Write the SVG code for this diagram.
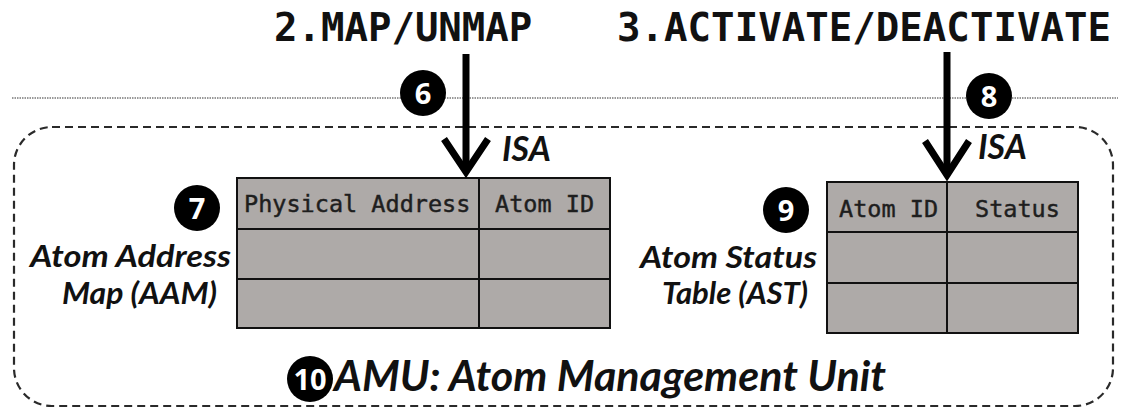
<svg xmlns="http://www.w3.org/2000/svg" width="1121" height="411" viewBox="0 0 1121 411">
  <defs>
    <style>
      .title { font-family: "DejaVu Sans Mono", "Liberation Mono", monospace; font-weight: bold; font-size: 39px; fill: #111; }
      .label { font-family: Lato, "Open Sans", sans-serif; font-style: italic; font-weight: bold; font-size: 31px; fill: #111; }
      .isa { font-family: Lato, "Open Sans", sans-serif; font-style: italic; font-weight: bold; font-size: 34px; fill: #111; }
      .unit { font-family: Lato, "Open Sans", sans-serif; font-style: italic; font-weight: bold; font-size: 42px; fill: #111; }
      .head { font-family: "DejaVu Sans Mono", "Liberation Mono", monospace; font-size: 23.5px; fill: #1e1e1e; stroke: #1e1e1e; stroke-width: 0.45; }
      .cell { fill: #aeaaa8; stroke: #111; stroke-width: 2; }
      .badge circle { fill: #000; }
      .badge text { font-family: "Open Sans", "DejaVu Sans", sans-serif; font-weight: bold; font-size: 29px; fill: #fff; text-anchor: middle; }
      .shaft { stroke: #000; stroke-width: 7; fill: none; }
      .head-v { stroke: #000; stroke-width: 7; fill: none; stroke-linejoin: miter; stroke-miterlimit: 10; }
    </style>
  </defs>

  <!-- ISA boundary line -->
  <line x1="12" y1="98" x2="1118" y2="98" stroke="#333" stroke-width="1" stroke-dasharray="1.5 1"/>

  <!-- AMU enclosure -->
  <g id="amu">
    <rect x="14" y="127" width="1099" height="279" rx="38" ry="38" fill="none" stroke="#2a2a2a" stroke-width="2.2" stroke-dasharray="8 5"/>
    <g class="badge" id="badge-10">
      <circle cx="310" cy="379" r="23"/>
      <text x="310" y="389.5">10</text>
    </g>
    <text class="unit" x="334" y="391" textLength="552" lengthAdjust="spacingAndGlyphs">AMU: Atom Management Unit</text>
  </g>

  <!-- Operation titles -->
  <g id="op-map">
    <text class="title" x="274" y="41">2.MAP/UNMAP</text>
  </g>
  <g id="op-activate">
    <text class="title" x="617" y="41" textLength="494">3.ACTIVATE/DEACTIVATE</text>
  </g>

  <!-- Atom Address Map -->
  <g id="aam">
    <rect class="cell" x="237" y="178" width="242" height="51"/>
    <rect class="cell" x="479" y="178" width="131" height="51"/>
    <rect class="cell" x="237" y="229" width="242" height="50"/>
    <rect class="cell" x="479" y="229" width="131" height="50"/>
    <rect class="cell" x="237" y="279" width="242" height="49"/>
    <rect class="cell" x="479" y="279" width="131" height="49"/>
    <text class="head" x="244" y="212">Physical Address</text>
    <text class="head" x="495" y="212">Atom ID</text>
    <text class="label" x="30" y="267" textLength="201" lengthAdjust="spacingAndGlyphs">Atom Address</text>
    <text class="label" x="62" y="304" textLength="155" lengthAdjust="spacingAndGlyphs">Map (AAM)</text>
    <g class="badge" id="badge-7">
      <circle cx="197" cy="208" r="23"/>
      <text x="197" y="218.5">7</text>
    </g>
  </g>

  <!-- Atom Status Table -->
  <g id="ast">
    <rect class="cell" x="827" y="182" width="120" height="50"/>
    <rect class="cell" x="947" y="182" width="131" height="50"/>
    <rect class="cell" x="827" y="232" width="120" height="51"/>
    <rect class="cell" x="947" y="232" width="131" height="51"/>
    <rect class="cell" x="827" y="283" width="120" height="50"/>
    <rect class="cell" x="947" y="283" width="131" height="50"/>
    <text class="head" x="839" y="217">Atom ID</text>
    <text class="head" x="975" y="217">Status</text>
    <text class="label" x="640" y="268" textLength="177" lengthAdjust="spacingAndGlyphs">Atom Status</text>
    <text class="label" x="662" y="304" textLength="146" lengthAdjust="spacingAndGlyphs">Table (AST)</text>
    <g class="badge" id="badge-9">
      <circle cx="786" cy="210" r="23"/>
      <text x="786" y="220.5">9</text>
    </g>
  </g>

  <!-- ISA call arrows -->
  <g id="connectors">
    <g id="arrow-map">
      <line class="shaft" x1="466" y1="54" x2="466" y2="172"/>
      <polyline class="head-v" points="444,139 466,172 488,139"/>
    </g>
    <g id="arrow-activate">
      <line class="shaft" x1="947" y1="52" x2="947" y2="175"/>
      <polyline class="head-v" points="925,141 947,175 969,141"/>
    </g>
  </g>

  <g id="isa-labels">
    <text class="isa" x="502" y="161">ISA</text>
    <text class="isa" x="978" y="159">ISA</text>
  </g>

  <g class="badge" id="badge-6">
    <circle cx="423" cy="93" r="23"/>
    <text x="423" y="103.5">6</text>
  </g>
  <g class="badge" id="badge-8">
    <circle cx="989" cy="96" r="23"/>
    <text x="989" y="106.5">8</text>
  </g>
</svg>
